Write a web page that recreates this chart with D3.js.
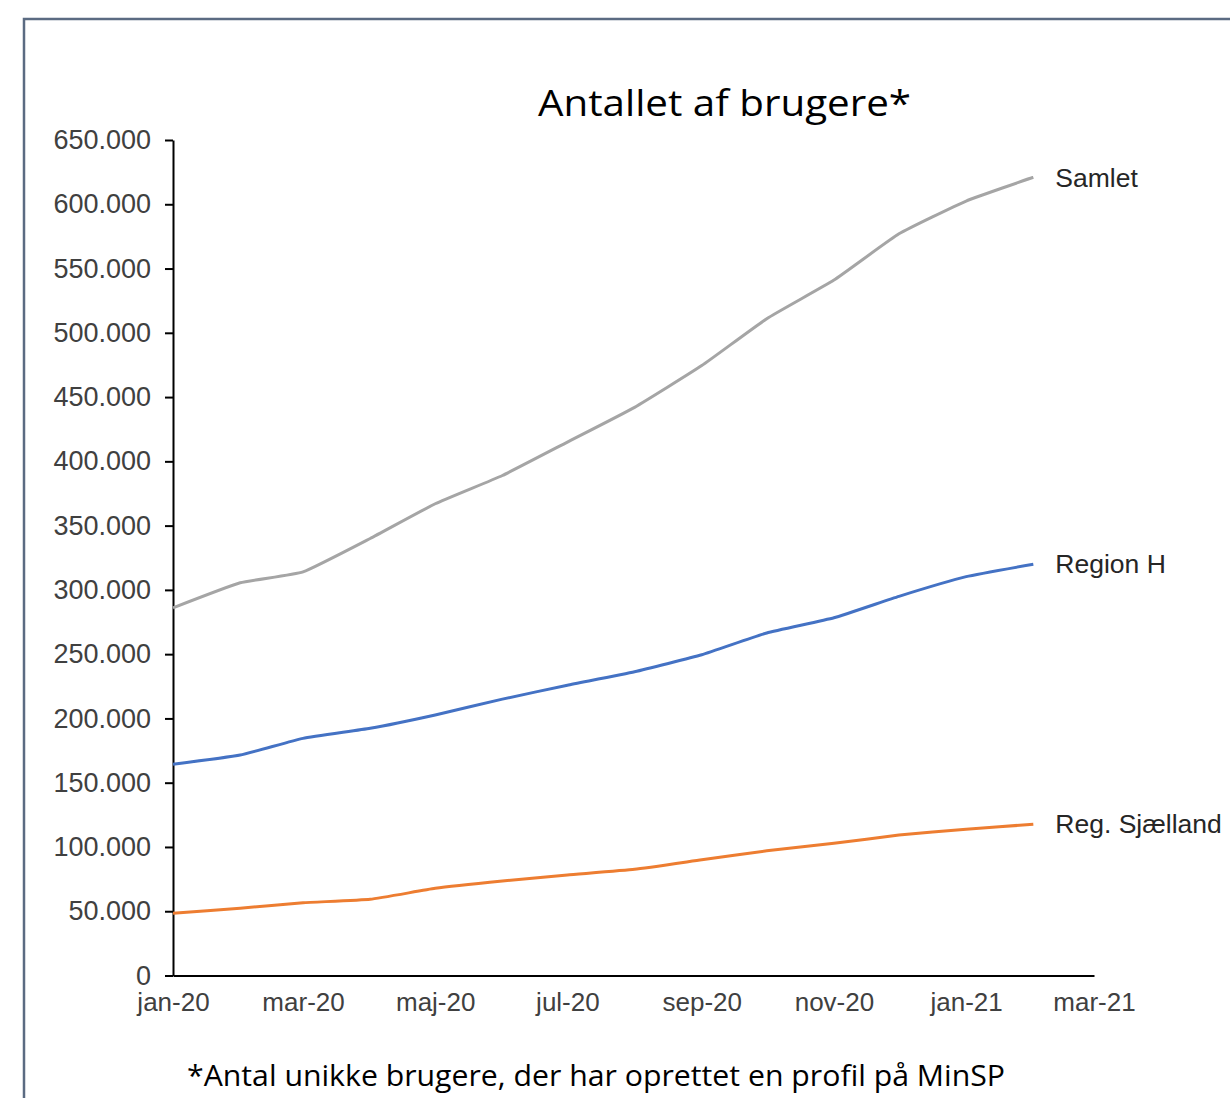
<!DOCTYPE html>
<html>
<head>
<meta charset="utf-8">
<script src="https://cdn.jsdelivr.net/npm/d3@7"></script>
<style>
  html, body { margin: 0; padding: 0; background: #fff; }
  svg { display: block; }
</style>
</head>
<body>
<svg id="chart" width="1230" height="1098"></svg>
<script>
// Monthly user counts (first of each month)
const months = ["2020-01","2020-02","2020-03","2020-04","2020-05","2020-06","2020-07",
                "2020-08","2020-09","2020-10","2020-11","2020-12","2021-01","2021-02"];
const samlet    = [286000, 305500, 314000, 340000, 367000, 389000, 415000,
                   442000, 474500, 511000, 541000, 577000, 602500, 621000];
const regionH   = [164300, 171500, 184500, 192300, 202700, 215000, 225800,
                   236300, 249500, 266500, 278300, 295000, 310300, 320000];
const sjaelland = [48400, 52300, 56600, 59300, 67800, 73500, 78200,
                   82600, 90000, 97000, 102800, 109300, 113700, 117700];
const seriesNames  = ["Samlet", "Region H", "Reg. Sjælland"];
const seriesColors = ["#a5a5a5", "#4472c4", "#ed7d31"];
const yTicks = [0, 50000, 100000, 150000, 200000, 250000, 300000, 350000,
                400000, 450000, 500000, 550000, 600000, 650000];
const xTickMonths = ["2020-01","2020-03","2020-05","2020-07","2020-09","2020-11","2021-01","2021-03"];

const parseMonth = d3.timeParse("%Y-%m");
const daLocale = d3.timeFormatLocale({
  dateTime: "%A den %d %B %Y %X", date: "%d.%m.%Y", time: "%H:%M:%S",
  periods: ["AM", "PM"],
  days: ["søndag","mandag","tirsdag","onsdag","torsdag","fredag","lørdag"],
  shortDays: ["søn","man","tir","ons","tor","fre","lør"],
  months: ["januar","februar","marts","april","maj","juni","juli","august","september","oktober","november","december"],
  shortMonths: ["jan","feb","mar","apr","maj","jun","jul","aug","sep","okt","nov","dec"]
});
const fmtMonth = daLocale.format("%b-%y");
const numLocale = d3.formatLocale({ decimal: ",", thousands: ".", grouping: [3], currency: ["", " kr."] });
const fmtNum = numLocale.format(",");

const labelFont = "'Liberation Sans', Arial, sans-serif";
const svg = d3.select("#chart");

// Outer frame
svg.append("path")
  .attr("d", "M24,1098 L24,19 L1230,19")
  .attr("fill", "none")
  .attr("stroke", "#5b6b82")
  .attr("stroke-width", 2.5);

const x = d3.scaleTime()
  .domain([parseMonth("2020-01"), parseMonth("2021-03")])
  .range([173, 1094]);
const y = d3.scaleLinear()
  .domain([0, 650000])
  .range([975.5, 140]);

// Y axis
const yAxis = svg.append("g")
  .attr("transform", "translate(173,0)")
  .call(d3.axisLeft(y).tickValues(yTicks).tickFormat(fmtNum).tickSize(8).tickPadding(14).tickSizeOuter(0));
yAxis.select(".domain").attr("stroke", "#000").attr("stroke-width", 2);
yAxis.selectAll(".tick line").attr("stroke", "#000").attr("stroke-width", 2);
yAxis.selectAll(".tick text")
  .attr("font-family", labelFont)
  .attr("font-size", 27)
  .attr("fill", "#404040");

// X axis
const xAxis = svg.append("g")
  .attr("transform", "translate(0,975.5)")
  .call(d3.axisBottom(x).tickValues(xTickMonths.map(parseMonth)).tickFormat(fmtMonth).tickSize(0).tickPadding(17).tickSizeOuter(0));
xAxis.select(".domain").attr("stroke", "#000").attr("stroke-width", 2);
xAxis.selectAll(".tick text")
  .attr("font-family", labelFont)
  .attr("font-size", 26)
  .attr("fill", "#404040");

// Lines
const dates = months.map(parseMonth);
const allSeries = [samlet, regionH, sjaelland];
const line = d3.line()
  .x((d, i) => x(dates[i]))
  .y(d => y(d))
  .curve(d3.curveCardinal.tension(0.6));

allSeries.forEach((vals, k) => {
  svg.append("path")
    .datum(vals)
    .attr("d", line)
    .attr("fill", "none")
    .attr("stroke", seriesColors[k])
    .attr("stroke-width", 3)
    .attr("stroke-linejoin", "round");

  svg.append("text")
    .attr("x", x(dates[dates.length - 1]) + 22)
    .attr("y", y(vals[vals.length - 1]))
    .attr("dy", "0.35em")
    .attr("font-family", labelFont)
    .attr("font-size", 26.5)
    .attr("fill", "#262626")
    .text(seriesNames[k]);
});

// Title
svg.append("text")
  .attr("x", 724.5)
  .attr("y", 116)
  .attr("text-anchor", "middle")
  .attr("font-family", "'Open Sans', 'Noto Sans', sans-serif")
  .attr("font-size", 37)
  .attr("fill", "#000")
  .attr("textLength", 373)
  .attr("lengthAdjust", "spacingAndGlyphs")
  .text("Antallet af brugere*");

// Footnote
svg.append("text")
  .attr("x", 596)
  .attr("y", 1086)
  .attr("text-anchor", "middle")
  .attr("font-family", "'Open Sans', 'Noto Sans', sans-serif")
  .attr("font-size", 29)
  .attr("fill", "#000")
  .attr("textLength", 818)
  .attr("lengthAdjust", "spacingAndGlyphs")
  .text("*Antal unikke brugere, der har oprettet en profil på MinSP");
</script>
</body>
</html>
